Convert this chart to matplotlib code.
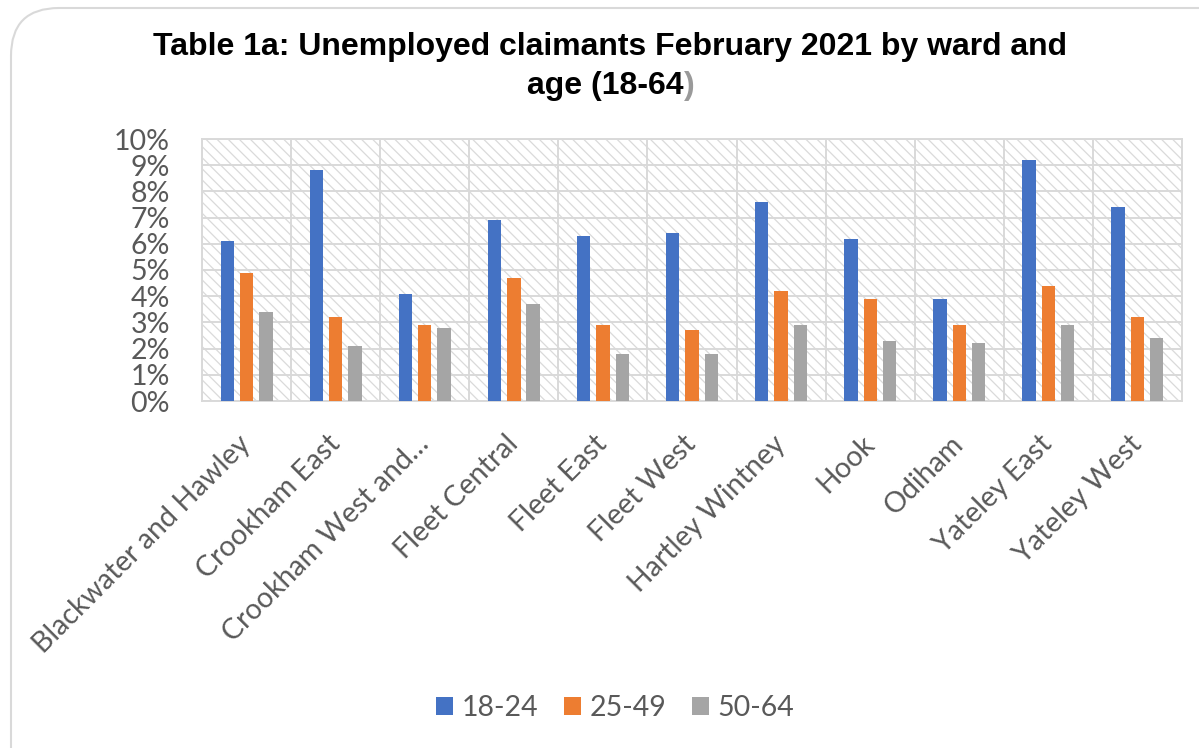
import matplotlib
matplotlib.use("Agg")
import matplotlib.pyplot as plt
import numpy as np
from matplotlib.patches import Rectangle, FancyBboxPatch

categories = ["Blackwater and Hawley", "Crookham East", "Crookham West and…",
              "Fleet Central", "Fleet East", "Fleet West", "Hartley Wintney",
              "Hook", "Odiham", "Yateley East", "Yateley West"]
series_names = ["18-24", "25-49", "50-64"]
age_18_24 = [6.1, 8.8, 4.1, 6.9, 6.3, 6.4, 7.6, 6.2, 3.9, 9.2, 7.4]
age_25_49 = [4.9, 3.2, 2.9, 4.7, 2.9, 2.7, 4.2, 3.9, 2.9, 4.4, 3.2]
age_50_64 = [3.4, 2.1, 2.8, 3.7, 1.8, 1.8, 2.9, 2.3, 2.2, 2.9, 2.4]
y_ticks = [0, 1, 2, 3, 4, 5, 6, 7, 8, 9, 10]
y_tick_labels = [f"{v}%" for v in y_ticks]

colors = ["#4472C4", "#ED7D31", "#A5A5A5"]
grid_col = "#d9d9d9"
text_col = "#595959"
font = ["Lato", "DejaVu Sans"]

plt.rcParams["hatch.linewidth"] = 0.9
plt.rcParams["hatch.color"] = "#dadada"

W, H = 1199, 748
fig = plt.figure(figsize=(W / 100, H / 100), dpi=100)

# rounded frame of the chart
frame = FancyBboxPatch((11 / W, -0.2), 1.3, 0.2 + (H - 8) / H,
                       boxstyle="round,pad=0,rounding_size=0.04",
                       transform=fig.transFigure, facecolor="none",
                       edgecolor="#d9d9d9", linewidth=1.5, mutation_aspect=W / H)
fig.patches.append(frame)

ax = fig.add_axes([202 / W, 1 - 401 / H, (1182 - 202) / W, (401 - 139) / H])

# hatched plot background
bg = Rectangle((0, 0), 1, 1, transform=ax.transAxes, facecolor="white",
               hatch="\\\\\\", edgecolor="#dadada", linewidth=0, zorder=0)
ax.add_patch(bg)

x = np.arange(len(categories))
offs = [-0.217, 0.0, 0.217]
bw = 0.15
for vals, off, c, name in zip([age_18_24, age_25_49, age_50_64], offs, colors, series_names):
    ax.bar(x + off, vals, width=bw, color=c, label=name, zorder=3)

ax.set_xlim(-0.5, len(categories) - 0.5)
ax.set_ylim(0, 10)
ax.set_yticks(y_ticks)
ax.set_yticklabels(y_tick_labels, fontsize=20.5, color=text_col, family=font)
ax.set_xticks(x)
ax.set_xticklabels(categories, rotation=45, ha="right", va="center",
                   rotation_mode="anchor", fontsize=20.5, color=text_col, family=font)
ax.set_xticks(np.arange(-0.5, len(categories), 1), minor=True)
ax.tick_params(axis="both", which="both", length=0)
ax.tick_params(axis="y", pad=23)
ax.tick_params(axis="x", pad=28)
ax.grid(axis="y", which="major", color=grid_col, linewidth=1.4, zorder=1)
ax.grid(axis="x", which="minor", color=grid_col, linewidth=1.4, zorder=1)
ax.set_axisbelow(True)
for s in ax.spines.values():
    s.set_color(grid_col)
    s.set_linewidth(1.4)

# title
tfont = ["Liberation Sans", "DejaVu Sans"]
tsize = 23
fig.text(610 / W, 1 - 47 / H, "Table 1a: Unemployed claimants February 2021 by ward and",
         ha="center", va="center", fontsize=tsize, fontweight="bold", family=tfont, color="black")
renderer = fig.canvas.get_renderer()
t1 = fig.text(0, 1 - 86 / H, "age (18-64", ha="left", va="center", fontsize=tsize,
              fontweight="bold", family=tfont, color="black")
t2 = fig.text(0, 1 - 86 / H, ")", ha="left", va="center", fontsize=tsize,
              fontweight="bold", family=tfont, color="#9a9a9a")
w1 = t1.get_window_extent(renderer).width
w2 = t2.get_window_extent(renderer).width
x0 = 611 - (w1 + w2) / 2
t1.set_x(x0 / W)
t2.set_x((x0 + w1) / W)

# legend
handles, labels = ax.get_legend_handles_labels()
leg = fig.legend(handles, labels, loc="center", bbox_to_anchor=(615 / W, 1 - 708 / H),
                 ncol=3, frameon=False, handlelength=0.6, handleheight=0.6,
                 handletextpad=0.3, columnspacing=0.9,
                 prop={"family": font, "size": 20.5})
for t in leg.get_texts():
    t.set_color(text_col)

fig.savefig("out.png", dpi=100)
